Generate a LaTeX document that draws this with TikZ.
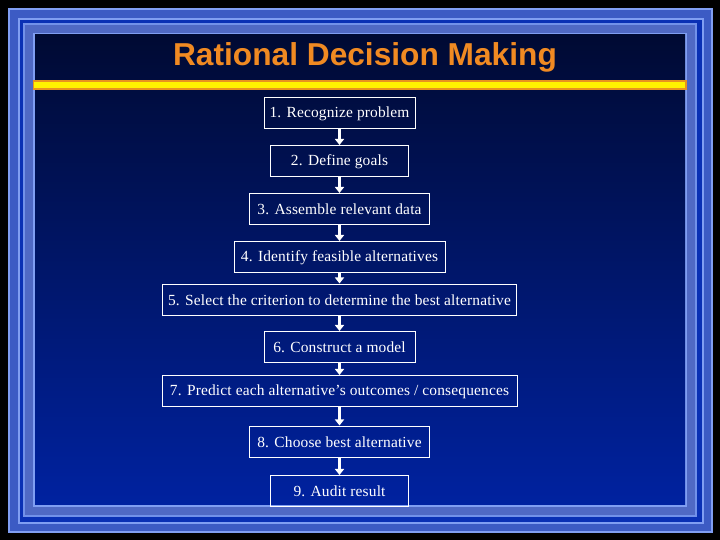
\documentclass[tikz,border=0pt]{standalone}
\usepackage{fontspec}
\setmainfont[LetterSpace=1]{Liberation Serif}
\newfontfamily\headfont{Liberation Sans}
\usepackage{xcolor}
\usepackage{tikz}
\usetikzlibrary{arrows.meta,positioning}

\definecolor{frameline}{HTML}{809EF2}
\definecolor{framemid}{HTML}{3C5BC4}
\definecolor{framedark}{HTML}{0A30B4}
\definecolor{framegrey}{HTML}{5069C4}
\definecolor{navytop}{HTML}{000A33}
\definecolor{navymid}{HTML}{08237C}
\definecolor{navybot}{HTML}{0022A0}
\definecolor{barorange}{HTML}{E8921E}
\definecolor{titleorange}{HTML}{F08A22}

\begin{document}
\begin{tikzpicture}[
  x=1bp,y=1bp,
  stage/.style={draw=white,line width=1bp,text=white,font=\fontsize{15.5}{18}\selectfont,
    minimum height=31bp,inner sep=1bp},
  arr/.style={-{Triangle[width=9bp,length=6bp]},white,line width=2.6bp,shorten >=0.5bp},
  heading/.style={font=\headfont\bfseries\fontsize{31.8}{36}\selectfont,text=titleorange,anchor=base}
]
  % background and frame
  \fill[black] (0,0) rectangle (720,540);
  \useasboundingbox (0,0) rectangle (720,540);
  \fill[frameline] (8,7) rectangle (713,532);
  \fill[framemid] (10,9) rectangle (711,530);
  \fill[frameline] (18,16) rectangle (704,522);
  \fill[framedark] (20,18) rectangle (702,520);
  \fill[frameline!80!framemid] (23,23) rectangle (697,517);
  \fill[framegrey] (25,25) rectangle (695,515);
  \fill[frameline] (33,33) rectangle (687,507);
  \shade[top color=navytop,middle color=navymid,bottom color=navybot] (35,35) rectangle (685,505);

  % title and bar
  \node[heading] (title) at (365,474) {Rational Decision Making};
  \fill[barorange] (33,449.5) rectangle (687,459.5);
  \fill[yellow] (34,451.5) rectangle (685,457.5);

  % steps
  \node[stage,minimum width=151bp] (s1) at (339.5,426.5) {1. Recognize problem};
  \node[stage,minimum width=138bp] (s2) at (339.5,378.5) {2. Define goals};
  \node[stage,minimum width=180bp] (s3) at (339.5,330.5) {3. Assemble relevant data};
  \node[stage,minimum width=211bp] (s4) at (339.5,282.5) {4. Identify feasible alternatives};
  \node[stage,minimum width=354bp] (s5) at (339.5,240) {5. Select the criterion to determine the best alternative};
  \node[stage,minimum width=151bp] (s6) at (339.5,192.5) {6. Construct a model};
  \node[stage,minimum width=355bp] (s7) at (339.5,148.5) {7. Predict each alternative’s outcomes / consequences};
  \node[stage,minimum width=180bp] (s8) at (339.5,98) {8. Choose best alternative};
  \node[stage,minimum width=138bp] (s9) at (339.5,48.5) {9. Audit result};

  \foreach \a/\b in {s1/s2,s2/s3,s3/s4,s4/s5,s5/s6,s6/s7,s7/s8,s8/s9}
    \draw[arr] (\a) -- (\b);
\end{tikzpicture}
\end{document}
